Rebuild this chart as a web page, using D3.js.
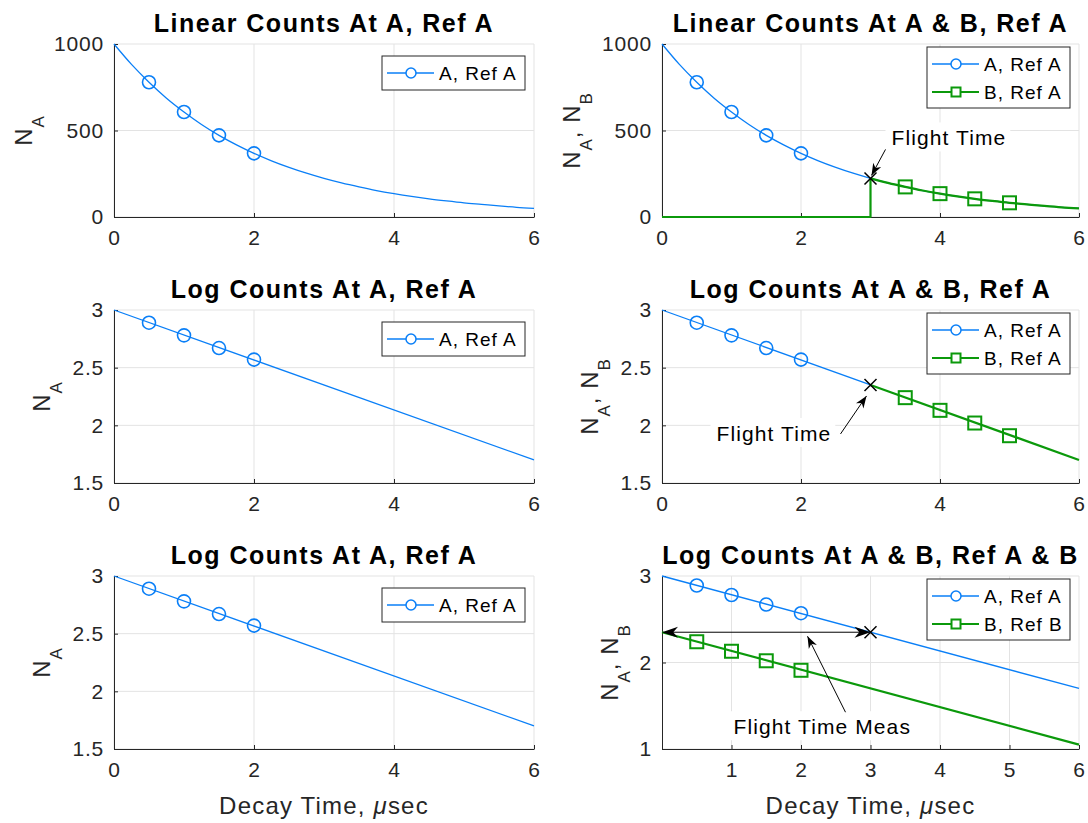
<!DOCTYPE html>
<html>
<head>
<meta charset="utf-8">
<script src="https://cdn.jsdelivr.net/npm/d3@7"></script>
<style>
body { margin: 0; background: #fff; }
svg { display: block; }
text { font-family: "Liberation Sans", Arial, Helvetica, sans-serif; }
</style>
</head>
<body>
<svg id="fig" width="1088" height="823"></svg>
<script>
// values
var tFine = [0, 0.25, 0.5, 0.75, 1, 1.25, 1.5, 1.75, 2, 2.25, 2.5, 2.75, 3,
             3.25, 3.5, 3.75, 4, 4.25, 4.5, 4.75, 5, 5.25, 5.5, 5.75, 6];
var countA = [1000, 882, 779, 687, 607, 535, 472, 417, 368, 325, 287, 253, 223,
              197, 174, 153, 135, 119, 105, 93, 82, 73, 64, 56, 50];

var tBStep = [0, 3, 3];
var countBStep = [0, 0, 223];
var tB = [3, 3.25, 3.5, 3.75, 4, 4.25, 4.5, 4.75, 5, 5.25, 5.5, 5.75, 6];
var countB = [223, 197, 174, 153, 135, 119, 105, 93, 82, 73, 64, 56, 50];

var tMarkA = [0.5, 1, 1.5, 2];
var countMarkA = [779, 607, 472, 368];
var logMarkA = [2.89, 2.78, 2.67, 2.57];

var tMarkB = [3.5, 4, 4.5, 5];
var countMarkB = [174, 135, 105, 82];
var logMarkB = [2.24, 2.13, 2.02, 1.91];
var logMarkBRefB = [2.24, 2.13, 2.02, 1.91];   // drawn at tMarkA

var tLog = [0, 6];
var logA = [3, 1.70];
var tLogA1 = [0, 3], logA1 = [3, 2.35];
var tLogB1 = [3, 6], logB1 = [2.35, 1.70];
var logBRefB = [2.35, 1.05];

var flightT = 3, flightCount = 223, flightLog = 2.35;

var xTicks = [0, 2, 4, 6];
var xTicksMeas = [1, 2, 3, 4, 5, 6];
var countTicks = [0, 500, 1000];
var logTicks = [1.5, 2, 2.5, 3];
var logTicksMeas = [1, 2, 3];

var titles = ["Linear Counts At A, Ref A", "Linear Counts At A & B, Ref A",
              "Log Counts At A, Ref A", "Log Counts At A & B, Ref A",
              "Log Counts At A, Ref A", "Log Counts At A & B, Ref A & B"];
var legendA = ["A, Ref A"];
var legendAB = ["A, Ref A", "B, Ref A"];
var legendABB = ["A, Ref A", "B, Ref B"];

var BLUE = "#0a7ff7", GREEN = "#0b990b", AXC = "#262626", GRID = "#e3e3e3";

var svg = d3.select("#fig");

function zip(a, b) { return a.map(function (v, i) { return [v, b[i]]; }); }
function plain(d) { return String(d); }

function panel(left, top, w, yDom, yT, xT, title, twoLabel, withXLabel) {
    var h = 173;
    var g = svg.append("g");
    var x = d3.scaleLinear().domain([0, 6]).range([left, left + w]);
    var y = d3.scaleLinear().domain(yDom).range([top + h, top]);

    // grid
    g.selectAll(".gx").data(xT).enter().append("line")
        .attr("x1", function (d) { return x(d); }).attr("x2", function (d) { return x(d); })
        .attr("y1", top).attr("y2", top + h)
        .attr("stroke", GRID).attr("stroke-width", 1);
    g.selectAll(".gy").data(yT).enter().append("line")
        .attr("y1", function (d) { return y(d); }).attr("y2", function (d) { return y(d); })
        .attr("x1", left).attr("x2", left + w)
        .attr("stroke", GRID).attr("stroke-width", 1);

    // axes
    var xa = g.append("g").attr("transform", "translate(0," + (top + h) + ")")
        .call(d3.axisBottom(x).tickValues(xT).tickFormat(plain)
            .tickSizeInner(-4).tickSizeOuter(0).tickPadding(13));
    var ya = g.append("g").attr("transform", "translate(" + left + ",0)")
        .call(d3.axisLeft(y).tickValues(yT).tickFormat(plain)
            .tickSizeInner(-4).tickSizeOuter(0).tickPadding(10));
    [xa, ya].forEach(function (a) {
        a.select(".domain").attr("stroke", AXC).attr("stroke-width", 1);
        a.selectAll(".tick line").attr("stroke", AXC);
        a.selectAll(".tick text").attr("fill", AXC)
            .style("font-size", "21px").style("letter-spacing", "0.8px")
            .style("font-family", "'Liberation Sans', Arial, sans-serif");
    });
    xa.selectAll(".tick text").attr("dy", "0.71em");

    // title
    g.append("text").attr("x", left + w / 2).attr("y", top - 12)
        .attr("text-anchor", "middle").style("font-size", "25px").style("font-weight", "bold")
        .style("letter-spacing", "1.5px").attr("fill", "#000").text(title);

    // y label, placed beside the tick labels
    var minLeft = d3.min(ya.selectAll(".tick text").nodes(), function (n) { return n.getBBox().x; });
    var lx = left + minLeft - 22;
    var yl = g.append("text").attr("transform", "translate(" + lx + "," + (top + h / 2) + ") rotate(-90)")
        .attr("text-anchor", "middle").attr("fill", AXC)
        .style("font-size", "24px").style("letter-spacing", "1px");
    yl.append("tspan").text("N");
    yl.append("tspan").attr("dy", 12).style("font-size", "17px").text("A");
    if (twoLabel) {
        yl.append("tspan").attr("dy", -12).text(", N");
        yl.append("tspan").attr("dy", 12).style("font-size", "17px").text("B");
    }

    if (withXLabel) {
        var xl = g.append("text").attr("x", left + w / 2).attr("y", 814)
            .attr("text-anchor", "middle").attr("fill", AXC)
            .style("font-size", "24px").style("letter-spacing", "1.2px");
        xl.append("tspan").text("Decay Time, ");
        xl.append("tspan").style("font-style", "italic").text("\u03bc");
        xl.append("tspan").text("sec");
    }
    return { g: g, x: x, y: y, left: left, top: top, w: w, h: h };
}

function drawLine(p, pts, color, width, curve) {
    p.g.append("path").datum(pts)
        .attr("d", d3.line().x(function (d) { return p.x(d[0]); })
            .y(function (d) { return p.y(d[1]); }).curve(curve || d3.curveLinear))
        .attr("fill", "none").attr("stroke", color).attr("stroke-width", width)
        .attr("stroke-linejoin", "round");
}

function circles(p, pts) {
    p.g.selectAll(null).data(pts).enter().append("circle")
        .attr("cx", function (d) { return p.x(d[0]); }).attr("cy", function (d) { return p.y(d[1]); })
        .attr("r", 6.5).attr("fill", "none").attr("stroke", BLUE).attr("stroke-width", 1.6);
}

function squares(p, pts) {
    p.g.selectAll(null).data(pts).enter().append("rect")
        .attr("x", function (d) { return p.x(d[0]) - 6.5; }).attr("y", function (d) { return p.y(d[1]) - 6.5; })
        .attr("width", 13).attr("height", 13).attr("fill", "none")
        .attr("stroke", GREEN).attr("stroke-width", 2);
}

function cross(p, t, v) {
    var cx = p.x(t), cy = p.y(v), s = 6;
    p.g.append("path").attr("d", "M" + (cx - s) + "," + (cy - s) + "L" + (cx + s) + "," + (cy + s) +
        "M" + (cx - s) + "," + (cy + s) + "L" + (cx + s) + "," + (cy - s))
        .attr("stroke", "#000").attr("stroke-width", 1.5);
}

function legend(p, labels) {
    var two = labels.length > 1;
    var bw = 143, bh = two ? 61 : 34;
    var bx = p.left + p.w - 9 - bw, by = p.top + (two ? 3 : 12);
    var lg = p.g.append("g");
    lg.append("rect").attr("x", bx).attr("y", by).attr("width", bw).attr("height", bh)
        .attr("fill", "#fff").attr("stroke", AXC).attr("stroke-width", 1);
    labels.forEach(function (lab, i) {
        var cy = two ? by + 17 + i * 28 : by + bh / 2;
        var col = i === 0 ? BLUE : GREEN;
        lg.append("line").attr("x1", bx + 5).attr("x2", bx + 52).attr("y1", cy).attr("y2", cy)
            .attr("stroke", col).attr("stroke-width", i === 0 ? 1.3 : 2.2);
        if (i === 0) {
            lg.append("circle").attr("cx", bx + 29).attr("cy", cy).attr("r", 5)
                .attr("fill", "#fff").attr("stroke", col).attr("stroke-width", 1.5);
        } else {
            lg.append("rect").attr("x", bx + 24.5).attr("y", cy - 4.5).attr("width", 9).attr("height", 9)
                .attr("fill", "#fff").attr("stroke", col).attr("stroke-width", 2);
        }
        lg.append("text").attr("x", bx + 57).attr("y", cy).attr("dy", "0.35em")
            .style("font-size", "19px").style("letter-spacing", "1px").attr("fill", "#000").text(lab);
    });
}

function arrowHead(g, x1, y1, x2, y2, len, wid) {
    var a = Math.atan2(y2 - y1, x2 - x1) * 180 / Math.PI;
    g.append("path")
        .attr("d", "M0,0L" + (-len) + "," + (-wid / 2) + "L" + (-len * 0.7) + ",0L" + (-len) + "," + (wid / 2) + "Z")
        .attr("transform", "translate(" + x2 + "," + y2 + ") rotate(" + a + ")")
        .attr("fill", "#000");
}

function note(g, txt, tx, ty, x1, y1, x2, y2) {
    var t = g.append("text").attr("x", tx).attr("y", ty)
        .style("font-size", "21px").style("letter-spacing", "1.1px").attr("fill", "#000").text(txt);
    var b = t.node().getBBox();
    g.insert("rect", "text").attr("x", b.x - 6).attr("y", b.y - 4).attr("width", b.width + 10).attr("height", b.height + 6)
        .attr("fill", "#fff");
    g.append("line").attr("x1", x1).attr("y1", y1).attr("x2", x2).attr("y2", y2)
        .attr("stroke", "#000").attr("stroke-width", 1);
    arrowHead(g, x1, y1, x2, y2, 12, 9);
}

var colL = 114, colR = 662, rows = [44, 310, 576];
var wL = 420, wR = 417;

// row 1 left
var p1 = panel(colL, rows[0], wL, [0, 1000], countTicks, xTicks, titles[0], false, false);
drawLine(p1, zip(tFine, countA), BLUE, 1.3, d3.curveMonotoneX);
circles(p1, zip(tMarkA, countMarkA));
legend(p1, legendA);

// row 1 right
var p2 = panel(colR, rows[0], wR, [0, 1000], countTicks, xTicks, titles[1], true, false);
drawLine(p2, zip(tFine, countA), BLUE, 1.3, d3.curveMonotoneX);
circles(p2, zip(tMarkA, countMarkA));
drawLine(p2, zip(tBStep, countBStep), GREEN, 2.2);
drawLine(p2, zip(tB, countB), GREEN, 2.2, d3.curveMonotoneX);
squares(p2, zip(tMarkB, countMarkB));
cross(p2, flightT, flightCount);
legend(p2, legendAB);

// row 2 left
var p3 = panel(colL, rows[1], wL, [1.5, 3], logTicks, xTicks, titles[2], false, false);
drawLine(p3, zip(tLog, logA), BLUE, 1.3);
circles(p3, zip(tMarkA, logMarkA));
legend(p3, legendA);

// row 2 right
var p4 = panel(colR, rows[1], wR, [1.5, 3], logTicks, xTicks, titles[3], true, false);
drawLine(p4, zip(tLogA1, logA1), BLUE, 1.3);
circles(p4, zip(tMarkA, logMarkA));
drawLine(p4, zip(tLogB1, logB1), GREEN, 2.2);
squares(p4, zip(tMarkB, logMarkB));
cross(p4, flightT, flightLog);
legend(p4, legendAB);

// row 3 left
var p5 = panel(colL, rows[2], wL, [1.5, 3], logTicks, xTicks, titles[4], false, true);
drawLine(p5, zip(tLog, logA), BLUE, 1.3);
circles(p5, zip(tMarkA, logMarkA));
legend(p5, legendA);

// row 3 right
var p6 = panel(colR, rows[2], wR, [1, 3], logTicksMeas, xTicksMeas, titles[5], true, true);
drawLine(p6, zip(tLog, logA), BLUE, 1.3);
circles(p6, zip(tMarkA, logMarkA));
drawLine(p6, zip(tLog, logBRefB), GREEN, 2.2);
squares(p6, zip(tMarkA, logMarkBRefB));
cross(p6, flightT, flightLog);
legend(p6, legendABB);

// annotations (figure level, on top)
var ann = svg.append("g");
var fx2 = p2.x(flightT), fy2 = p2.y(flightCount);
note(ann, "Flight Time", fx2 + 21, fy2 - 33, fx2 + 15, fy2 - 29, fx2 + 1, fy2 - 3);
var fx4 = p4.x(flightT), fy4 = p4.y(flightLog);
note(ann, "Flight Time", fx4 - 154, fy4 + 56, fx4 - 30, fy4 + 49, fx4 - 4, fy4 + 11);

var fx6 = p6.x(flightT), fy6 = p6.y(flightLog), x06 = p6.x(0);
ann.append("line").attr("x1", x06 + 10).attr("x2", fx6 - 10).attr("y1", fy6).attr("y2", fy6)
    .attr("stroke", "#000").attr("stroke-width", 1);
arrowHead(ann, fx6, fy6, x06, fy6, 16, 11);
arrowHead(ann, x06, fy6, fx6, fy6, 16, 11);
note(ann, "Flight Time Meas", fx6 - 137, fy6 + 102, fx6 - 25, fy6 + 80, fx6 - 63, fy6 + 4);
</script>
</body>
</html>
